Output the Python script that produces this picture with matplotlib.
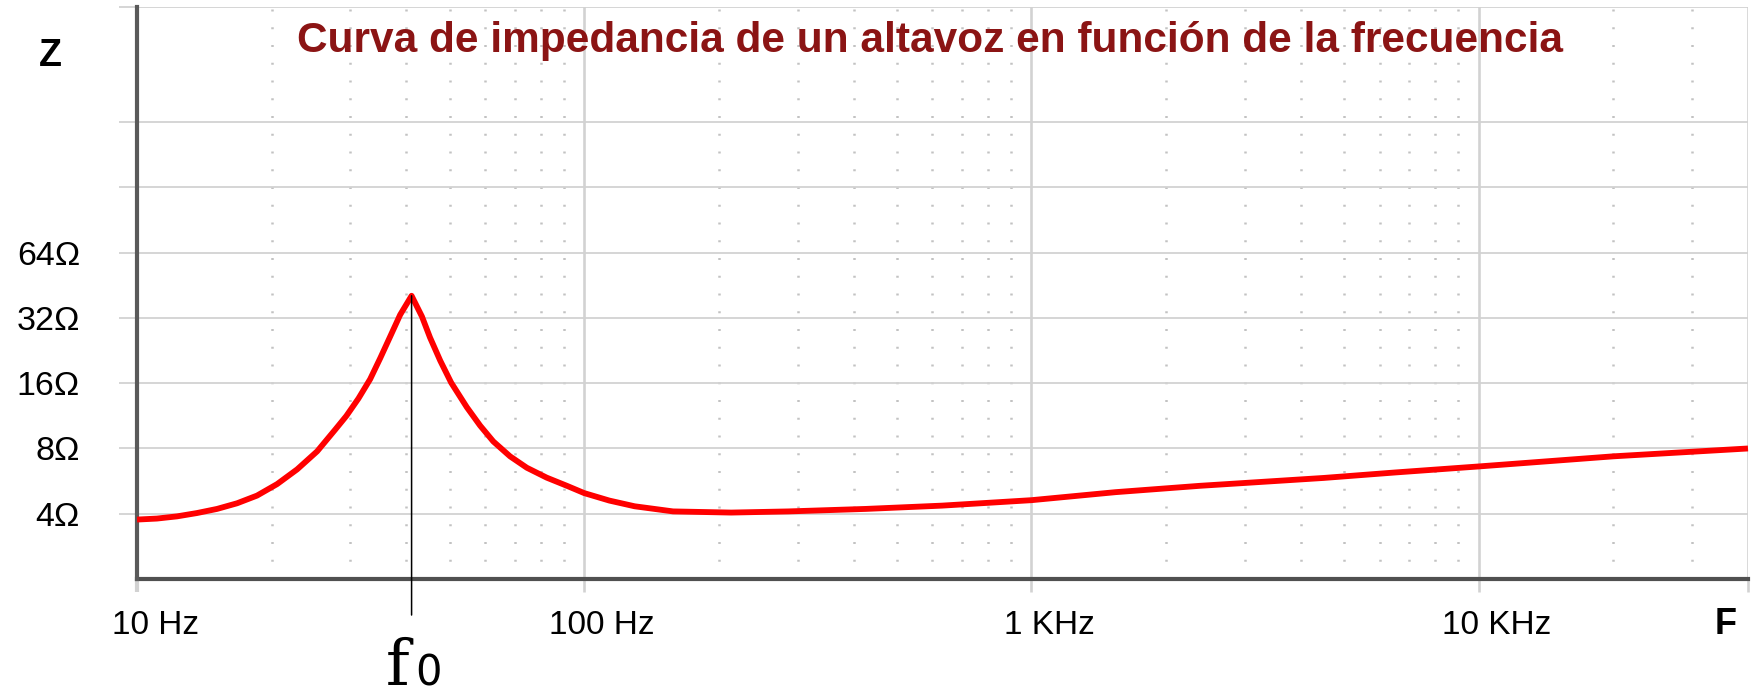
import numpy as np
import matplotlib
matplotlib.use("Agg")
import matplotlib.pyplot as plt
from matplotlib.ticker import LogLocator, NullLocator, NullFormatter
from matplotlib.transforms import ScaledTranslation

plt.rcParams['font.family'] = ['Liberation Sans', 'DejaVu Sans']

# impedance curve (Hz, ohm)
freq = [10, 11.08, 12.29, 13.62, 15.10, 16.74, 18.55, 20.57, 22.81, 25.28,
        27.75, 29.38, 31.27, 33.21, 34.99, 36.83, 38.76, 41.11, 43.36, 45.20,
        47.66, 50.4, 54.63, 58.50, 62.61, 68.25, 74.41, 82.41, 91.48, 100,
        113.8, 129.6, 158, 213, 286, 426, 631, 1000, 1541, 2376, 4500, 6500,
        10000, 20000, 40000]
z = [3.76, 3.80, 3.89, 4.03, 4.21, 4.47, 4.85, 5.48, 6.41, 7.76,
     9.78, 11.3, 13.6, 16.7, 20.9, 26.3, 33.1, 40.5, 32.5, 26.0,
     20.3, 16.1, 12.4, 10.2, 8.62, 7.36, 6.52, 5.87, 5.38, 4.98,
     4.60, 4.33, 4.10, 4.05, 4.10, 4.21, 4.36, 4.62, 5.03, 5.38, 5.85, 6.2,
     6.61, 7.36, 8.0]

x_ticks = [10, 100, 1000, 10000, 40000]
x_labels = ['10 Hz', '100 Hz', '1 KHz', '10 KHz', '']
y_ticks = [4, 8, 16, 32, 64, 128, 256, 870]
y_labels = ['4Ω', '8Ω', '16Ω', '32Ω', '64Ω', '', '', '']

title = 'Curva de impedancia de un altavoz en función de la frecuencia'

fig = plt.figure(figsize=(17.57, 7.0), dpi=100)
ax = fig.add_axes([137 / 1757, 1 - 579 / 700, (1748 - 137) / 1757, (579 - 7) / 700])

ax.set_xscale('log')
ax.set_yscale('log', base=2)
ax.set_xlim(10, 40000)
ax.set_ylim(2, 870)

grid_col = '#d2d2d2'
ax.set_xticks(x_ticks)
ax.set_xticklabels(x_labels)
ax.set_yticks(y_ticks)
ax.set_yticklabels(y_labels)
ax.xaxis.set_minor_locator(LogLocator(base=10, subs=np.arange(2, 10)))
ax.xaxis.set_minor_formatter(NullFormatter())
ax.yaxis.set_minor_locator(NullLocator())

ax.grid(which='major', axis='y', color=grid_col, lw=1.3)
ax.grid(which='major', axis='x', color=grid_col, lw=1.9)
ax.grid(which='minor', axis='x', color='#c2c2c2', lw=1.8, linestyle=(0, (0.8, 6.3)))
ax.set_axisbelow(True)

ax.tick_params(axis='y', length=13, width=1.3, color=grid_col, pad=28, labelsize=24.5)
ax.tick_params(axis='x', which='major', length=9.5, width=1.9, color=grid_col, pad=13, labelsize=24)
ax.tick_params(axis='x', which='minor', length=0)
ax.xaxis.get_major_ticks()[0].tick1line.set_color('#5a5a5a')
ax.xaxis.get_major_ticks()[0].tick1line.set_markeredgewidth(3)

offset = ScaledTranslation(18 / 100, 0, fig.dpi_scale_trans)
for lab in ax.get_xticklabels():
    lab.set_transform(lab.get_transform() + offset)

for s in ['top', 'right']:
    ax.spines[s].set_visible(False)
ax.spines['left'].set_color('#5a5a5a')
ax.spines['left'].set_linewidth(3)
ax.spines['bottom'].set_color('#505050')
ax.spines['bottom'].set_linewidth(3)
ax.spines['left'].set_zorder(3)

ax.plot(freq, z, color='#ff0000', lw=4.2, solid_joinstyle='round',
        solid_capstyle='butt', zorder=4, clip_on=False)

# resonance marker
i_pk = int(np.argmax(z))
f0 = freq[i_pk]
ax.annotate('', xy=(f0, z[i_pk]), xytext=(f0, -0.063),
            xycoords='data', textcoords=('data', 'axes fraction'),
            arrowprops=dict(arrowstyle='-', lw=1.1, color='black', shrinkA=0, shrinkB=0),
            zorder=5)

fig.text(930 / 1757, 1 - 41 / 700, title, ha='center', va='center',
         fontsize=30.5, fontweight='bold', color='#8b1414')
fig.text(50 / 1757, 1 - 56 / 700, 'Z', ha='center', va='center',
         fontsize=27, fontweight='bold')
fig.text(1726 / 1757, 1 - 625 / 700, 'F', ha='center', va='center',
         fontsize=26, fontweight='bold')
fig.text(398 / 1757, 1 - 685 / 700, 'f', ha='center', va='baseline',
         fontsize=46, family='DejaVu Serif')
fig.text(429 / 1757, 1 - 685 / 700, '0', ha='center', va='baseline',
         fontsize=30, family='DejaVu Sans')

fig.savefig('out.png', dpi=100)
